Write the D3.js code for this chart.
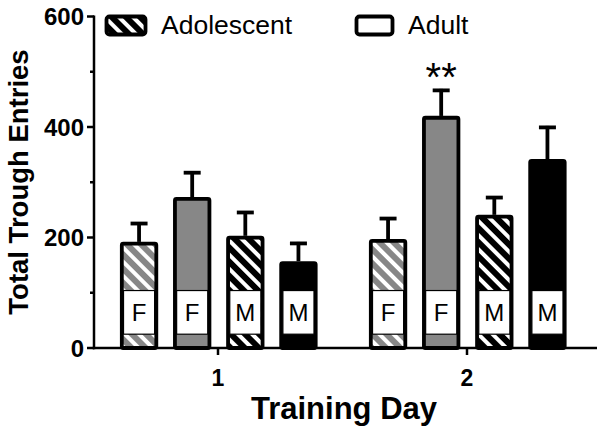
<!DOCTYPE html>
<html><head><meta charset="utf-8">
<script src="https://cdn.jsdelivr.net/npm/d3@7"></script>
<style>body{margin:0;background:#fff}svg{display:block}text{font-family:Arial,"Liberation Sans",sans-serif}</style>
</head><body><svg id="c" width="600" height="435"></svg>
<script>
const days = ["1","2"];
const groups = ["adoF","adultF","adoM","adultM"];
const sexLabels = ["F","F","M","M"];
const adolescentF = [192, 197];
const adolescentF_sem = [36, 40];
const adultF = [273, 420];
const adultF_sem = [47, 49];
const adolescentM = [203, 241];
const adolescentM_sem = [45, 34];
const adultM = [157, 342];
const adultM_sem = [35, 60];
const yTicks = [0, 200, 400, 600];
const yMinor = [100, 300, 500];
const labelBand = [25, 104];
const legendLabels = ["Adolescent", "Adult"];

const values = [adolescentF, adultF, adolescentM, adultM];
const sems = [adolescentF_sem, adultF_sem, adolescentM_sem, adultM_sem];
const fills = ["url(#hatchGray)", "#878787", "url(#hatchBlack)", "#000"];

const svg = d3.select("#c");
const defs = svg.append("defs");
function hatch(id, bg){
  const p = defs.append("pattern").attr("id", id).attr("patternUnits","userSpaceOnUse")
    .attr("width", 10).attr("height", 10).attr("patternTransform","rotate(-45)");
  p.append("rect").attr("width",10).attr("height",10).attr("fill",bg);
  p.append("rect").attr("x",0).attr("width",4).attr("height",10).attr("fill","#fff");
}
hatch("hatchGray", "#878787");
hatch("hatchBlack", "#000");

const y = d3.scaleLinear().domain([0, 600]).range([348, 16.5]);
const x0 = d3.scaleBand().domain(days).range([93.5, 591.5]);
const x1 = d3.scaleBand().domain(groups).range([19, 231.5]).paddingInner(0.283).paddingOuter(0.1415);

const data = [];
days.forEach((d, di) => groups.forEach((g, gi) => data.push({day:d, g, gi, v: values[gi][di], e: sems[gi][di]})));

const bars = svg.append("g");
data.forEach(o => {
  const bx = x0(o.day) + x1(o.g), bw = x1.bandwidth();
  const cx = bx + bw/2;
  bars.append("line").attr("x1",cx).attr("x2",cx).attr("y1",y(o.v)).attr("y2",y(o.v+o.e))
    .attr("stroke","#000").attr("stroke-width",3.8);
  bars.append("line").attr("x1",cx-8.5).attr("x2",cx+8.5).attr("y1",y(o.v+o.e)+1.5).attr("y2",y(o.v+o.e)+1.5)
    .attr("stroke","#000").attr("stroke-width",3.8);
  bars.append("rect").attr("x",bx+1.8).attr("y",y(o.v)+1.8).attr("width",bw-3.6).attr("height",y(0)-y(o.v)-1.8)
    .attr("fill",fills[o.gi]).attr("stroke","#000").attr("stroke-width",3.8).attr("rx",1.5);
  bars.append("rect").attr("x",bx+3.5).attr("y",y(labelBand[1])).attr("width",bw-7).attr("height",y(labelBand[0])-y(labelBand[1]))
    .attr("fill","#fff").attr("stroke","#000").attr("stroke-width",1.2);
  bars.append("text").attr("x",cx).attr("y",(y(labelBand[0])+y(labelBand[1]))/2+8.5)
    .attr("text-anchor","middle").attr("font-size",24).text(sexLabels[o.gi]);
});

{
  const o = data.find(d => d.day==="2" && d.g==="adultF");
  svg.append("text").attr("x", x0("2")+x1("adultF")+x1.bandwidth()/2).attr("y", y(o.v+o.e)+2)
    .attr("text-anchor","middle").attr("font-size",40).text("**");
}

const ax = svg.append("g").attr("stroke","#000").attr("stroke-width",2.5);
ax.append("line").attr("x1",94).attr("x2",94).attr("y1",y(600)-1).attr("y2",y(0)+1.2);
ax.append("line").attr("x1",92.8).attr("x2",597).attr("y1",y(0)).attr("y2",y(0));
yTicks.forEach(t => ax.append("line").attr("x1",87).attr("x2",94).attr("y1",y(t)).attr("y2",y(t)));
yMinor.forEach(t => ax.append("line").attr("x1",90).attr("x2",94).attr("y1",y(t)).attr("y2",y(t)));
days.forEach(d => ax.append("line").attr("x1",x0(d)+x0.bandwidth()/2).attr("x2",x0(d)+x0.bandwidth()/2).attr("y1",y(0)).attr("y2",y(0)+7));

yTicks.forEach(t => svg.append("text").attr("x",84).attr("y",y(t)+8.5).attr("text-anchor","end")
  .attr("font-size",24).attr("font-weight","bold").text(t));
days.forEach(d => svg.append("text").attr("x",x0(d)+x0.bandwidth()/2).attr("y",386).attr("text-anchor","middle")
  .attr("font-size",23).attr("font-weight","bold").text(d));

svg.append("text").attr("x",344).attr("y",419).attr("text-anchor","middle")
  .attr("font-size",31).attr("font-weight","bold").text("Training Day");
svg.append("text").attr("transform","translate(28,182) rotate(-90)").attr("text-anchor","middle")
  .attr("font-size",27.5).attr("font-weight","bold").text("Total Trough Entries");

const lg = svg.append("g");
lg.append("rect").attr("x",106.5).attr("y",16.5).attr("width",39).attr("height",18).attr("rx",3)
  .attr("fill","url(#hatchBlack)").attr("stroke","#000").attr("stroke-width",3.8);
lg.append("text").attr("x",161).attr("y",34).attr("font-size",26.5).text(legendLabels[0]);
lg.append("rect").attr("x",356.5).attr("y",16.5).attr("width",36).attr("height",18).attr("rx",3)
  .attr("fill","#fff").attr("stroke","#000").attr("stroke-width",3.8);
lg.append("text").attr("x",408).attr("y",34).attr("font-size",26.5).text(legendLabels[1]);
</script></body></html>
